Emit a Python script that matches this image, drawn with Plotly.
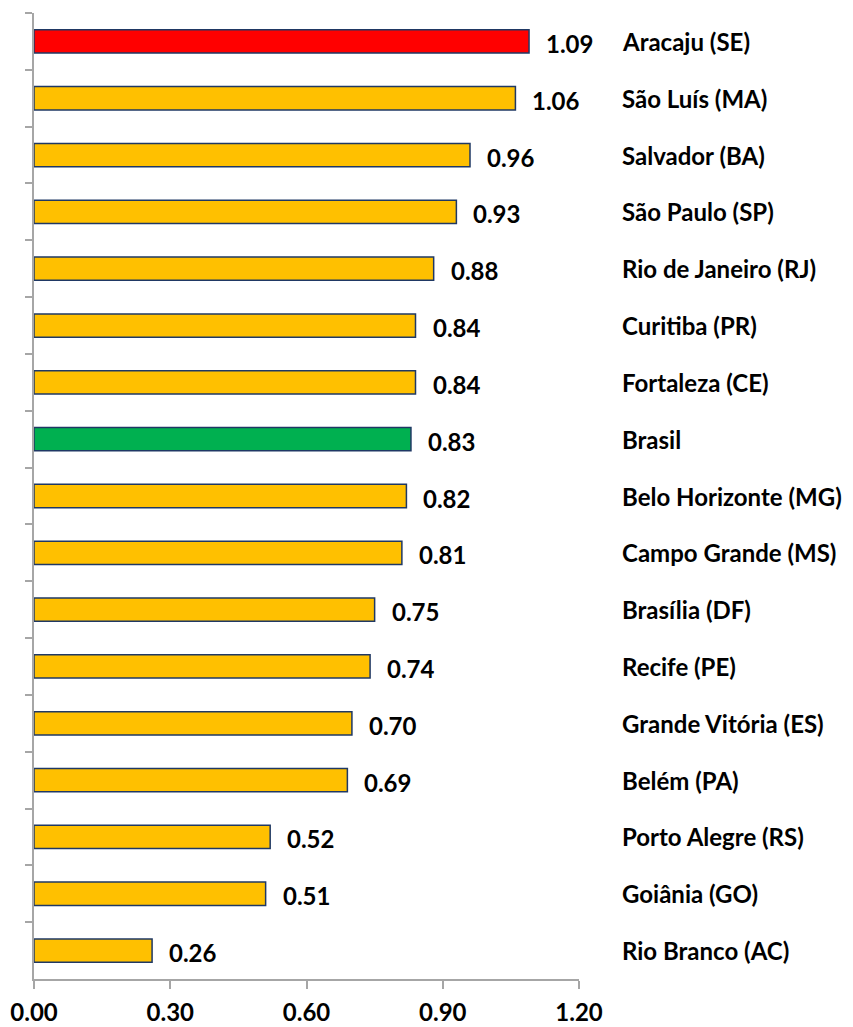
import plotly.graph_objects as go

categories = ["Aracaju (SE)", "São Luís (MA)", "Salvador (BA)", "São Paulo (SP)",
              "Rio de Janeiro (RJ)", "Curitiba (PR)", "Fortaleza (CE)", "Brasil",
              "Belo Horizonte (MG)", "Campo Grande (MS)", "Brasília (DF)", "Recife (PE)",
              "Grande Vitória (ES)", "Belém (PA)", "Porto Alegre (RS)", "Goiânia (GO)",
              "Rio Branco (AC)"]
values = [1.09, 1.06, 0.96, 0.93, 0.88, 0.84, 0.84, 0.83, 0.82, 0.81, 0.75, 0.74,
          0.70, 0.69, 0.52, 0.51, 0.26]
label_texts = ["1.09", "1.06", "0.96", "0.93", "0.88", "0.84", "0.84", "0.83", "0.82",
               "0.81", "0.75", "0.74", "0.70", "0.69", "0.52", "0.51", "0.26"]
x_ticks = [0.0, 0.3, 0.6, 0.9, 1.2]
x_tick_labels = ["0.00", "0.30", "0.60", "0.90", "1.20"]

GOLD = "#FFC000"
RED = "#FF0000"
GREEN = "#00B050"
colors = [RED if c.startswith("Aracaju") else GREEN if c == "Brasil" else GOLD
          for c in categories]

FONT = "Lato"

fig = go.Figure()
fig.add_trace(go.Bar(
    x=values, y=categories, orientation="h",
    marker=dict(color=colors, line=dict(color="#1F3864", width=1.5)),
    width=0.41, hoverinfo="skip",
))

annotations = []
for c, v, t in zip(categories, values, label_texts):
    annotations.append(dict(x=v, y=c, xref="x", yref="y", text=t, showarrow=False,
                            xanchor="left", yanchor="middle", xshift=15, yshift=-2,
                            font=dict(family=FONT, size=24, color="black", weight="bold")))
    annotations.append(dict(x=1.2, y=c, xref="x", yref="y", text=c, showarrow=False,
                            xanchor="left", yanchor="middle", xshift=41, yshift=0,
                            font=dict(family=FONT, size=24, color="black", weight="bold")))

# page body adds an 8px offset, so the figure is sized/margined to compensate
fig.update_layout(
    width=845, height=1019,
    margin=dict(l=26, r=274, t=5, b=48),
    paper_bgcolor="white", plot_bgcolor="white",
    showlegend=False,
    annotations=annotations,
    xaxis=dict(range=[0, 1.2], tickvals=x_ticks, ticktext=x_tick_labels,
               automargin=False, ticklabelstandoff=3,
               showgrid=False, zeroline=False, showline=True, linecolor="#A6A6A6",
               linewidth=1.5, ticks="outside", ticklen=8, tickcolor="#A6A6A6",
               tickwidth=1.5,
               tickfont=dict(family=FONT, size=24, color="black", weight="bold")),
    yaxis=dict(autorange="reversed", showticklabels=False, showgrid=False,
               automargin=False,
               showline=True, linecolor="#A6A6A6", linewidth=1.5, ticks="outside",
               tickson="boundaries", ticklen=7, tickcolor="#A6A6A6", tickwidth=1.5),
)

fig.write_html("out.html")
